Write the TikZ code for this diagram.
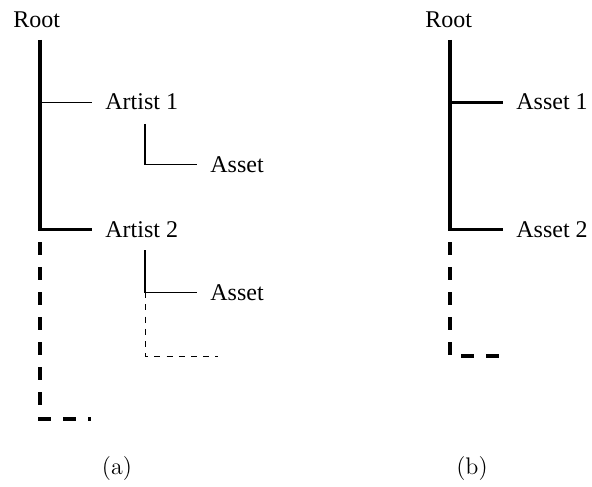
\documentclass[tikz,border=0pt]{standalone}
\usepackage{fontspec}
\newfontfamily\tnr{Liberation Serif}
\begin{document}
\begin{tikzpicture}[x=0.5pt,y=-0.5pt,
  lbl/.style={font=\tnr\fontsize{12}{14}\selectfont, inner sep=0pt, anchor=base west},
  leaf/.style={font=\tnr\fontsize{12}{14}\selectfont, inner xsep=6.5pt, inner ysep=0pt, anchor=base west},
  subcap/.style={font=\fontsize{12}{14}\selectfont, inner sep=0pt, anchor=base},
  heavy/.style={line width=1.6pt, line join=miter},
  light/.style={line width=0.6pt, line join=miter},
  heavydash/.style={line width=1.6pt, dash pattern=on 6.25pt off 6.25pt},
  lightdash/.style={line width=0.5pt, dash pattern=on 3pt off 3.1pt}]
\useasboundingbox (0,0) rectangle (592,486);

% ---------- (a) ----------
\node[lbl] (rootA) at (13,27.5) {Root};
\coordinate (tA) at (40,40);
\node[leaf] (a1) at (92,110) {Artist 1};
\node[leaf] (a2) at (92,237) {Artist 2};
\draw[heavy] (tA) |- (a2.west);
\draw[light] (a1.west -| tA) -- (a1.west);

\coordinate (c1) at (145,124);
\node[leaf] (s1) at (197,172) {Asset};
\draw[light] (c1) |- (s1.west);

\coordinate (c2) at (145,250);
\node[leaf] (s2) at (197,300) {Asset};
\draw[light] (c2) |- (s2.west);
\coordinate (e2) at (218,356);
\draw[lightdash] (s2.west -| c2) |- (e2);

\coordinate (dA) at (40,242);
\coordinate (fA) at (91,419);
\draw[heavydash] (dA) |- (fA);

\node[subcap] (capA) at (117,474) {(a)};

% ---------- (b) ----------
\node[lbl] (rootB) at (425,27.5) {Root};
\coordinate (tB) at (450,40);
\node[leaf] (b1) at (503,110) {Asset 1};
\node[leaf] (b2) at (503,237) {Asset 2};
\draw[heavy] (tB) |- (b2.west);
\draw[heavy] (b1.west -| tB) -- (b1.west);

\coordinate (dB) at (450,242);
\coordinate (fB) at (501,356);
\draw[heavydash] (dB) |- (fB);

\node[subcap] (capB) at (472,474) {(b)};
\end{tikzpicture}
\end{document}
